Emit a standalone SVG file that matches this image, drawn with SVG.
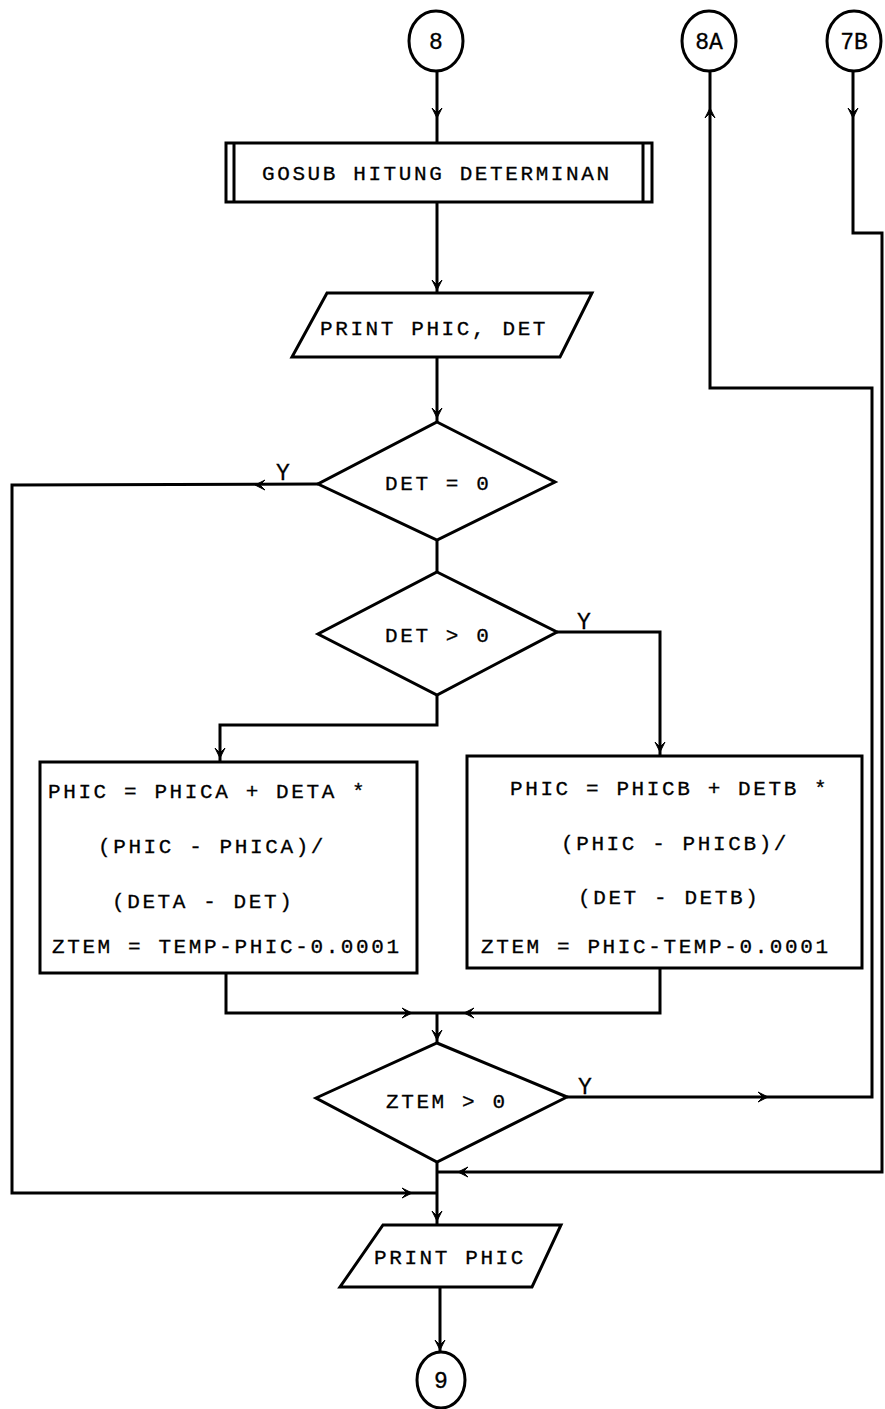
<svg xmlns="http://www.w3.org/2000/svg" xmlns:xlink="http://www.w3.org/1999/xlink" width="885" height="1409" viewBox="0 0 885 1409">
<style>
.s{fill:none;stroke:#000;stroke-width:3;stroke-linejoin:miter}
.t{font-family:"Liberation Mono","DejaVu Sans Mono",monospace;font-size:21px;letter-spacing:2.6px;fill:#000;stroke:#000;stroke-width:0.3}
.c{text-anchor:middle;letter-spacing:0}
.y{font-size:23px}
</style>
<defs>
<path id="ah" d="M-5,-10 L0,0 L5,-10 L0,-5 Z" fill="#000" stroke="#000" stroke-width="1"/>
</defs>
<rect width="885" height="1409" fill="#fff"/>
<g id="connectors" class="s">
<path d="M437,71 V143"/>
<path d="M437,202 V293"/>
<path d="M437,357 V422"/>
<path d="M318,484 L12,485 V1193 H437"/>
<path d="M437,540 V572"/>
<path d="M557,632 H660 V756"/>
<path d="M437,695 V725 H220 V762"/>
<path d="M226,973 V1013 H660 V968"/>
<path d="M437,1013 V1043"/>
<path d="M567,1097 H872 V388 H710 V71"/>
<path d="M853,71 V233 H882 V1172 H437"/>
<path d="M437,1162 V1225"/>
<path d="M440,1287 V1352"/>
<use xlink:href="#ah" transform="translate(437,118)"/>
<use xlink:href="#ah" transform="translate(437,290)"/>
<use xlink:href="#ah" transform="translate(437,418)"/>
<use xlink:href="#ah" transform="translate(255,485) rotate(90)"/>
<use xlink:href="#ah" transform="translate(660,752)"/>
<use xlink:href="#ah" transform="translate(220,758)"/>
<use xlink:href="#ah" transform="translate(412,1013) rotate(-90)"/>
<use xlink:href="#ah" transform="translate(464,1013) rotate(90)"/>
<use xlink:href="#ah" transform="translate(437,1040)"/>
<use xlink:href="#ah" transform="translate(768,1097) rotate(-90)"/>
<use xlink:href="#ah" transform="translate(710,108) rotate(180)"/>
<use xlink:href="#ah" transform="translate(853,118)"/>
<use xlink:href="#ah" transform="translate(412,1193) rotate(-90)"/>
<use xlink:href="#ah" transform="translate(458,1172) rotate(90)"/>
<use xlink:href="#ah" transform="translate(437,1221)"/>
<use xlink:href="#ah" transform="translate(440,1350)"/>
</g>
<g id="c8"><ellipse class="s" cx="436" cy="41" rx="27" ry="30"/><text class="t c y" x="436" y="49">8</text></g>
<g id="c8A"><ellipse class="s" cx="709" cy="41" rx="27" ry="30"/><text class="t c y" x="709" y="49">8A</text></g>
<g id="c7B"><ellipse class="s" cx="854" cy="41" rx="27" ry="30"/><text class="t c y" x="854" y="49">7B</text></g>
<g id="gosub"><rect class="s" x="226" y="143" width="426" height="59"/><path class="s" d="M234,143 V202 M643,143 V202"/><text class="t" x="262" y="180">GOSUB HITUNG DETERMINAN</text></g>
<g id="print1"><path class="s" d="M327,293 H592 L560,357 H292 Z"/><text class="t" x="320" y="335">PRINT PHIC, DET</text></g>
<g id="d1"><path class="s" d="M437,422 L555,482 L437,540 L318,484 Z"/><text class="t" x="385" y="490">DET = 0</text><text class="t y" x="276" y="480">Y</text></g>
<g id="d2"><path class="s" d="M437,572 L557,632 L437,695 L318,634 Z"/><text class="t" x="385" y="642">DET &gt; 0</text><text class="t y" x="577" y="629">Y</text></g>
<g id="boxA"><rect class="s" x="40" y="762" width="377" height="211"/>
<text class="t" x="48" y="798">PHIC = PHICA + DETA *</text>
<text class="t" x="98" y="853">(PHIC - PHICA)/</text>
<text class="t" x="112" y="908">(DETA - DET)</text>
<text class="t" x="52" y="953">ZTEM = TEMP-PHIC-0.0001</text></g>
<g id="boxB"><rect class="s" x="467" y="756" width="395" height="212"/>
<text class="t" x="510" y="795">PHIC = PHICB + DETB *</text>
<text class="t" x="561" y="850">(PHIC - PHICB)/</text>
<text class="t" x="578" y="904">(DET - DETB)</text>
<text class="t" x="481" y="953">ZTEM = PHIC-TEMP-0.0001</text></g>
<g id="d3"><path class="s" d="M437,1043 L567,1097 L437,1162 L316,1098 Z"/><text class="t" x="386" y="1108">ZTEM &gt; 0</text><text class="t y" x="578" y="1094">Y</text></g>
<g id="print2"><path class="s" d="M383,1225 H561 L532,1287 H340 Z"/><text class="t" x="374" y="1264">PRINT PHIC</text></g>
<g id="c9"><ellipse class="s" cx="441" cy="1380" rx="24" ry="28"/><text class="t c y" x="441" y="1388">9</text></g>
</svg>
